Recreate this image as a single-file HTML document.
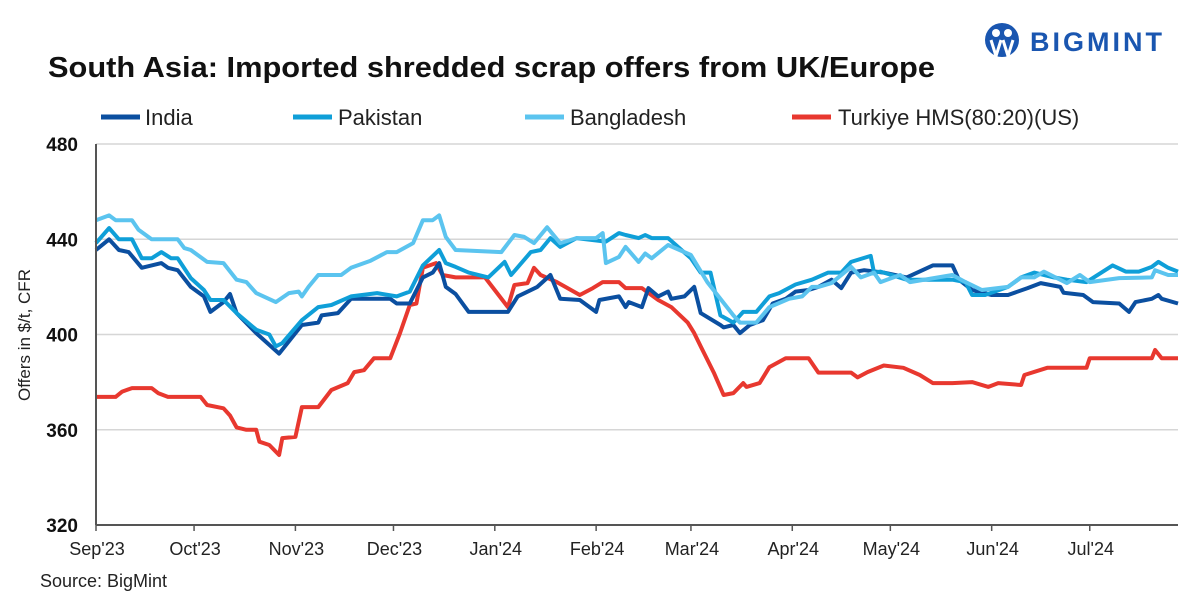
<!DOCTYPE html>
<html><head><meta charset="utf-8"><style>
body{margin:0;background:#fff;width:1197px;height:599px;overflow:hidden;font-family:"Liberation Sans",sans-serif;}
</style></head><body>
<svg width="1197" height="599" xmlns="http://www.w3.org/2000/svg" font-family="Liberation Sans, sans-serif">
<g>
<circle cx="1002" cy="40" r="17" fill="#1a56b0"/>
<circle cx="996" cy="33" r="4" fill="#fff"/><circle cx="1008" cy="33" r="4" fill="#fff"/>
<path d="M991 40 L996 56 L1001 40 M1003 40 L1008 56 L1013 40" stroke="#fff" stroke-width="3" fill="none"/>
<text x="1030" y="51" font-size="27" font-weight="bold" fill="#1a56b0" letter-spacing="3">BIGMINT</text>
</g>
<text x="48" y="77" font-size="29" font-weight="bold" fill="#111" textLength="887" lengthAdjust="spacingAndGlyphs">South Asia: Imported shredded scrap offers from UK/Europe</text>
<g font-size="22" fill="#222">
<g><line x1="101" y1="117" x2="140" y2="117" stroke="#0b4fa0" stroke-width="5"/><text x="145" y="125">India</text></g>
<g><line x1="293" y1="117" x2="332" y2="117" stroke="#0f9fd8" stroke-width="5"/><text x="338" y="125">Pakistan</text></g>
<g><line x1="525" y1="117" x2="564" y2="117" stroke="#5bc4ef" stroke-width="5"/><text x="570" y="125">Bangladesh</text></g>
<g><line x1="792" y1="117" x2="831" y2="117" stroke="#e8382f" stroke-width="5"/><text x="838" y="125">Turkiye HMS(80:20)(US)</text></g>
</g>
<text transform="translate(30,335) rotate(-90)" text-anchor="middle" font-size="17" fill="#222">Offers in $/t, CFR</text>
<text x="40" y="587" font-size="18" fill="#222">Source: BigMint</text>
<g id="grid"></g><g id="series"></g><g id="axes"></g>
</svg>
<script>
const yTicks=[320,360,400,440,480];
const monthLabels=["Sep'23","Oct'23","Nov'23","Dec'23","Jan'24","Feb'24","Mar'24","Apr'24","May'24","Jun'24","Jul'24"];
const monthDays=[0,30,61,91,122,153,182,213,243,274,304];
const indiaDays=[0,4,7,10,14,20,22,25,29,33,35,39,41,43,49,56,61,63,68,69,74,78,90,92,96,100,103,105,107,110,114,120,126,129,135,139,142,148,153,154,160,162,163,167,169,172,175,176,180,183,185,191,192,195,197,200,204,207,211,214,218,221,225,228,231,235,241,248,256,262,264,268,274,279,285,289,295,296,302,305,313,316,318,323,325,326,331];
const indiaVals=[435.5,440,435.5,434.6,428,430,428,427,420,416,409.5,413.6,417,409,400.6,392,400.6,404,405,408,409,415,415,413,413,424,426,430,420,417,409.5,409.5,409.5,416,420,425,415,414.5,409.5,414.5,416,411.5,413.6,411.5,419.5,416,418,415,416,420,409,404,403,404,400.6,404,406,413,415,418,418.7,420,423,419.5,426,427,426,424,429,429,423,418.7,416.6,416.6,419.5,421.6,420,417.5,416.6,413.6,413,409.5,413.6,415,416.6,415,413];
const pakDays=[0,4,7,11,14,17,20,23,25,29,33,35,39,43,49,53,55,57,63,68,72,78,86,92,96,100,105,107,110,114,120,125,127,133,136,139,142,147,156,160,162,166,168,170,175,182,185,188,191,195,198,202,206,209,214,219,224,228,231,237,238,240,248,255,262,266,268,272,279,283,287,293,297,303,311,315,319,323,325,328,331];
const pakVals=[438.4,444.7,440,440,432,432,434.6,432,432,423.7,418.7,414.5,414.5,409,402,400,395,396.4,406,411.5,412.4,416,417.4,416,418,429,435.5,430,428.4,426,424,430.5,425,434.6,435.5,440.5,436.8,440.5,439,442.6,441.8,440.5,441.8,440.5,440.5,432,426,426,408,405,409.5,409.5,416,417.4,421,423,426,426,430.5,433,426,426.4,423,423,423,422,416.6,416.6,420,424,426,424,423,422,429,426.4,426.4,428.4,430.5,428,426.4];
const bgdDays=[0,4,6,11,13,17,25,27,29,34,39,43,46,49,55,59,62,63,65,68,75,78,84,89,92,97,100,103,105,107,110,124,128,131,134,138,142,147,153,155,156,160,162,166,168,170,175,182,187,195,197,202,206,212,216,219,221,225,231,234,238,240,246,249,262,266,271,279,283,287,290,297,301,304,313,323,324,328,331];
const bgdVals=[448,450,448,448,444,440,440,436.3,435.5,430.5,430,423,422,417.4,413.6,417.4,418,416,420,425,425,428,431,434.6,434.6,438.4,448,448,450,441,435.5,434.6,441.8,441,438.4,445,438.4,440.5,440.5,442.6,430,432.6,436.8,430.5,434,432,437.6,433.4,422,408,405,405,411.5,415,416,420,420,421.6,428.4,424,426,422,425,422,425,422,418.7,420,424,424,426.4,421.6,425,422,423.7,424,427,425,425];
const turDays=[0,6,8,11,17,19,22,32,34,39,41,43,46,49,50,53,56,57,61,63,68,72,77,79,82,85,90,93,96,98,100,104,106,110,119,126,128,132,134,136,141,148,152,155,160,162,167,172,176,181,183,185,189,192,195,198,199,203,206,211,218,221,231,233,236,241,247,252,256,262,268,273,276,283,284,291,303,304,323,324,326,331];
const turVals=[373.8,373.8,376,377.5,377.5,375.4,373.8,373.8,370.4,369,366,361,360,360,355,353.6,349.4,356.5,357,369.5,369.5,376.7,379.6,384.2,385,390,390,400.6,412.4,413,428,430,425,424,424,411.5,420.8,421.6,428,425,422,416.6,419.5,422,422,419.5,419.5,414.5,411.5,405,400.6,395,384,374.6,375.4,379.6,378,379.6,386.3,390,390,384,384,382,384.2,387,386,383,379.6,379.6,380,378,379.6,378.8,383,386,386,390,390,393.5,390,390];

const NS='http://www.w3.org/2000/svg';
const X0=96,X1=1178,Y0=525,Y1=144,DMAX=331;
const xs=d=>X0+d*(X1-X0)/DMAX;
const ys=v=>Y0-(v-320)*(Y0-Y1)/160;
function mk(tag,attrs,parent){const e=document.createElementNS(NS,tag);for(const k in attrs)e.setAttribute(k,attrs[k]);parent.appendChild(e);return e;}
const grid=document.getElementById('grid'),axes=document.getElementById('axes'),ser=document.getElementById('series');
yTicks.forEach(v=>{
  if(v>320){const l=mk('line',{x1:X0,x2:X1,y1:ys(v),y2:ys(v),stroke:'#d6d6d6','stroke-width':1.5},grid);
  
  }
  const t=mk('text',{x:78,y:ys(v)+7,'text-anchor':'end','font-size':19,'font-weight':'bold',fill:'#111'},axes);t.textContent=v;
  
  
});
monthDays.forEach((d,i)=>{
  const x=xs(d);
  mk('line',{x1:x,x2:x,y1:Y0,y2:Y0+6,stroke:'#555','stroke-width':1.5},axes);
  const t=mk('text',{x:x+1,y:555,'text-anchor':'middle','font-size':18,fill:'#222'},axes);t.textContent=monthLabels[i];
  
  
});
const ya=mk('line',{x1:X0,x2:X0,y1:Y1,y2:Y0,stroke:'#555','stroke-width':2},axes);


const xa=mk('line',{x1:X0,x2:X1,y1:Y0,y2:Y0,stroke:'#555','stroke-width':2},axes);


function line(days,vals,color,name){
  const p=mk('polyline',{points:days.map((d,i)=>xs(d).toFixed(1)+','+ys(vals[i]).toFixed(1)).join(' '),fill:'none',stroke:color,'stroke-width':4,'stroke-linejoin':'round'},ser);
  
  
}
line(turDays,turVals,'#e8382f','turkiye-line');
line(indiaDays,indiaVals,'#0b4fa0','india-line');
line(pakDays,pakVals,'#0f9fd8','pakistan-line');
line(bgdDays,bgdVals,'#5bc4ef','bangladesh-line');
</script>
</body></html>
